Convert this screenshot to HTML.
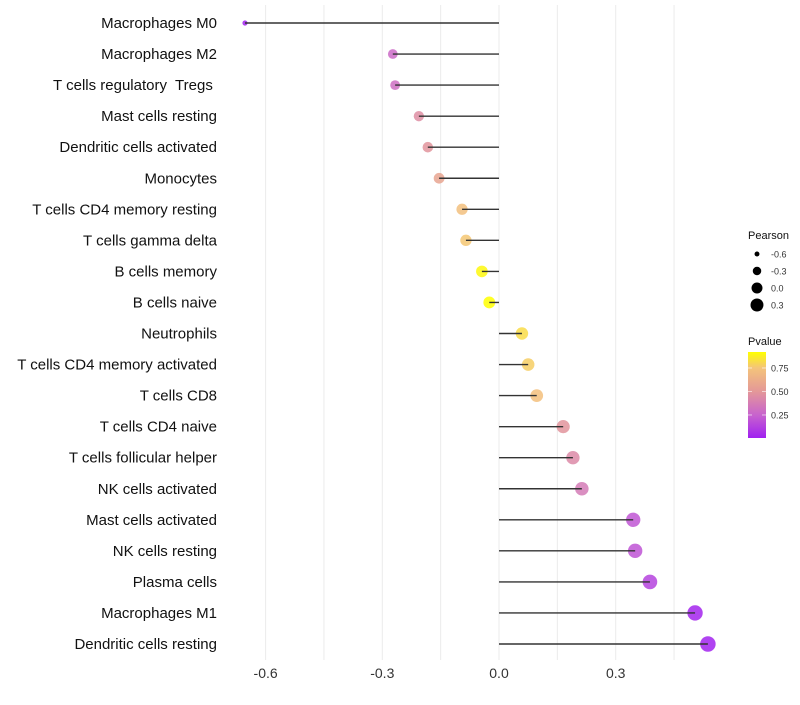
<!DOCTYPE html>
<html><head><meta charset="utf-8"><style>
body{margin:0;background:#fff;font-family:"Liberation Sans",sans-serif}
svg text{font-family:"Liberation Sans",sans-serif;white-space:pre}
</style></head><body>
<svg id="c" width="800" height="700"></svg>
<script>
const categories=["Macrophages M0","Macrophages M2","T cells regulatory  Tregs ","Mast cells resting","Dendritic cells activated","Monocytes","T cells CD4 memory resting","T cells gamma delta","B cells memory","B cells naive","Neutrophils","T cells CD4 memory activated","T cells CD8","T cells CD4 naive","T cells follicular helper","NK cells activated","Mast cells activated","NK cells resting","Plasma cells","Macrophages M1","Dendritic cells resting"];
const pearson=[-0.653,-0.273,-0.267,-0.206,-0.183,-0.154,-0.095,-0.085,-0.044,-0.025,0.059,0.075,0.097,0.165,0.19,0.213,0.345,0.35,0.388,0.504,0.537];
const pvalue=[0.01,0.28,0.3,0.45,0.48,0.57,0.72,0.76,0.9,0.92,0.82,0.78,0.73,0.48,0.43,0.36,0.2,0.19,0.13,0.02,0.01];
const xTicks=[-0.6,-0.3,0.0,0.3];
const xTickLabels=["-0.6","-0.3","0.0","0.3"];
const sizeLegend=[-0.6,-0.3,0.0,0.3];
const colorLegend=[0.25,0.5,0.75];
const NS="http://www.w3.org/2000/svg";
const svg=document.getElementById('c');
function el(t,a,p){const e=document.createElementNS(NS,t);for(const k in a)e.setAttribute(k,a[k]);(p||svg).appendChild(e);return e;}
const x=v=>499+v*389;
const y=i=>23+i*31.05;
const r=v=>Math.sqrt(Math.max(3,36+45*v));
const rl=v=>Math.sqrt(Math.max(3,30+40*v));
const stops=[[0,[160,32,240]],[0.25,[200,100,205]],[0.5,[228,152,152]],[0.75,[244,196,122]],[0.92,[255,255,0]]];
function col(p){p=Math.max(0,Math.min(0.92,p));for(let k=1;k<stops.length;k++){if(p<=stops[k][0]){const[a0,a]=stops[k-1],[b0,b]=stops[k];const t=(p-a0)/(b0-a0);return `rgb(${a.map((c,i)=>Math.round(c+(b[i]-c)*t)).join(',')})`;}}return 'rgb(255,255,0)';}
[-0.6,-0.45,-0.3,-0.15,0,0.15,0.3,0.45].forEach(v=>{const g=el('line',{x1:x(v),x2:x(v),y1:5,y2:660,stroke:'#ebebeb','stroke-width':1});

});
xTicks.forEach((v,i)=>{const t=el('text',{x:x(v),y:678,'text-anchor':'middle','font-size':14,fill:'#333'});t.textContent=xTickLabels[i];

});
categories.forEach((c,i)=>{
const t=el('text',{x:217,y:y(i)+5,'text-anchor':'end','font-size':15,fill:'#111'});t.textContent=c;


const d=el('circle',{cx:x(pearson[i]),cy:y(i),r:r(pearson[i]),fill:col(pvalue[i]),'fill-opacity':0.85});


const s=el('line',{x1:x(0),x2:x(pearson[i]),y1:y(i),y2:y(i),stroke:'#333','stroke-width':1.4});


});
const lt=el('text',{x:748,y:239,'font-size':11,fill:'#111'});lt.textContent='Pearson';


sizeLegend.forEach((v,i)=>{const cy=254+i*17;const c=el('circle',{cx:757,cy:cy,r:rl(v),fill:'#000'});


const t=el('text',{x:771,y:cy+3.5,'font-size':9,fill:'#333'});t.textContent=v.toFixed(1);

});
const ct=el('text',{x:748,y:345,'font-size':11,fill:'#111'});ct.textContent='Pvalue';


const defs=el('defs',{});const lg=el('linearGradient',{id:'g',x1:0,y1:1,x2:0,y2:0},defs);
stops.forEach(s=>el('stop',{offset:s[0]/0.92,'stop-color':col(s[0])},lg));
const bar=el('rect',{x:748,y:352,width:18,height:86,fill:'url(#g)'});


colorLegend.forEach(v=>{const yy=438-(v-0.005)/0.915*86;
el('line',{x1:748,x2:752,y1:yy,y2:yy,stroke:'#fff','stroke-opacity':0.6});el('line',{x1:762,x2:766,y1:yy,y2:yy,stroke:'#fff','stroke-opacity':0.6});
const t=el('text',{x:771,y:yy+3.5,'font-size':9,fill:'#333'});t.textContent=v.toFixed(2);

});
</script>
</body></html>
